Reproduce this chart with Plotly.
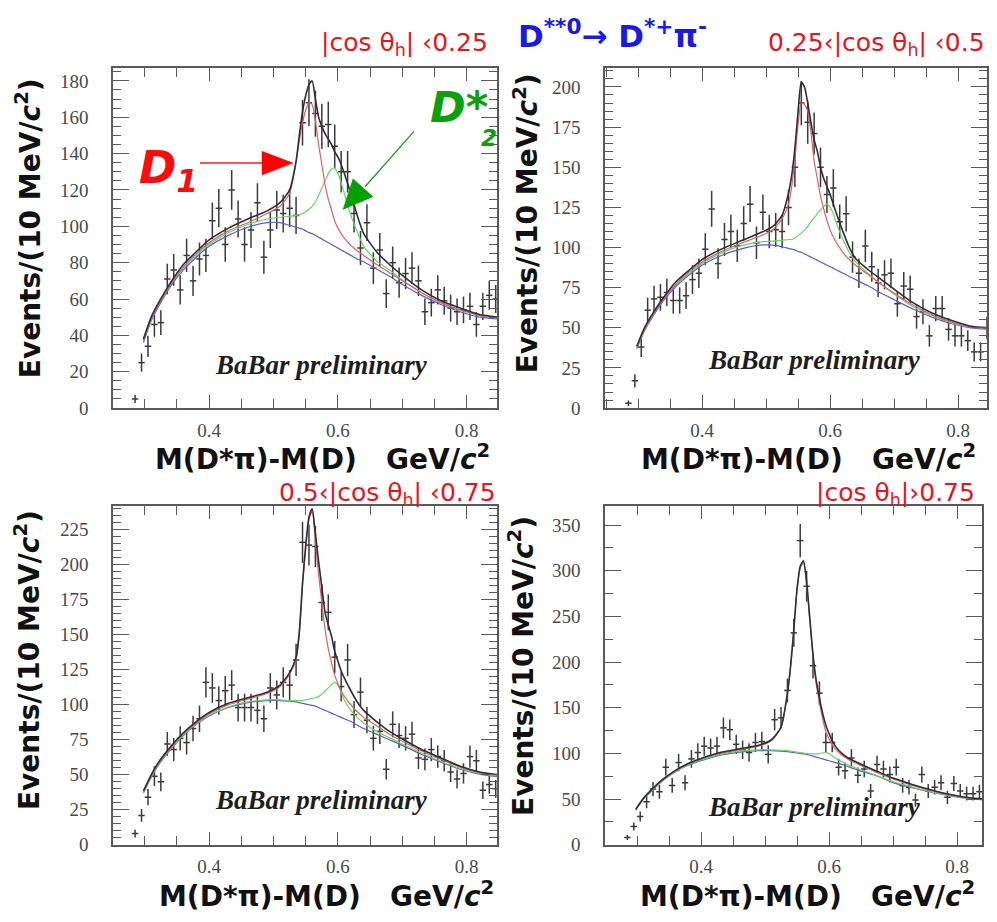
import numpy as np
import plotly.graph_objects as go

# ---------------- data ----------------
bins = [0.285, 0.295, 0.305, 0.315, 0.325, 0.335, 0.345, 0.355, 0.365, 0.375,
        0.385, 0.395, 0.405, 0.415, 0.425, 0.435, 0.445, 0.455, 0.465, 0.475,
        0.485, 0.495, 0.505, 0.515, 0.525, 0.535, 0.545, 0.555, 0.565, 0.575,
        0.585, 0.595, 0.605, 0.615, 0.625, 0.635, 0.645, 0.655, 0.665, 0.675,
        0.685, 0.695, 0.705, 0.715, 0.725, 0.735, 0.745, 0.755, 0.765, 0.775,
        0.785, 0.795, 0.805, 0.815, 0.825, 0.835, 0.845]

p1_counts = [5, 25, 34, 46, 47, 71, 76, 65, 84, 70, 82, 84, 103, 110, 90, 120, 104, 90, 98, 113,
             83, 98, 109, 107, 110, 106, 157, 168, 162, 155, 156, 144, 130, 130, 107, 88, 102, 77, 87, 63,
             80, 69, 74, 77, 70, 53, 58, 65, 59, 55, 53, 54, 56, 46, 56, 62, 60]
p2_counts = [3, 17, 38, 61, 68, 69, 72, 67, 67, 70, 80, 84, 99, 124, 90, 105, 110, 101, 115, 127,
             103, 122, 110, 111, 110, 125, 150, 190, 178, 171, 150, 133, 137, 116, 121, 94, 84, 101, 88, 78,
             83, 84, 65, 76, 74, 57, 60, 45, 62, 62, 49, 45, 45, 42, 35, 35, 50]
p3_counts = [8, 21, 34, 49, 45, 72, 68, 76, 73, 83, 90, 116, 112, 103, 110, 114, 98, 98, 98, 96,
             90, 112, 107, 116, 114, 132, 216, 214, 213, 173, 166, 134, 113, 132, 93, 109, 89, 76, 81, 54,
             86, 78, 76, 79, 62, 61, 68, 63, 60, 52, 47, 51, 63, 60, 39, 43, 40]
p4_counts = [8, 20, 31, 47, 61, 58, 85, 65, 90, 68, 94, 101, 108, 106, 108, 128, 126, 110, 104, 101,
             112, 113, 99, 137, 139, 169, 232, 333, 283, 196, 166, 112, 112, 85, 81, 95, 76, 83, 59, 88,
             83, 77, 85, 65, 63, 49, 77, 59, 63, 68, 52, 67, 59, 56, 56, 58]

curve_x = [0.298, 0.31, 0.32, 0.34, 0.36, 0.38, 0.40, 0.43, 0.46, 0.49, 0.51, 0.525, 0.535, 0.54,
           0.545, 0.55, 0.555, 0.56, 0.565, 0.57, 0.575, 0.58, 0.585, 0.59, 0.595, 0.60, 0.605, 0.61,
           0.62, 0.63, 0.64, 0.66, 0.68, 0.70, 0.73, 0.76, 0.79, 0.82, 0.85]

p1_bg = [36, 48, 55, 67, 76, 83, 89, 95, 99.5, 102, 102, 100.5, 99.5, 99, 98.5, 97.5, 96.5, 96, 95, 94,
         93, 92, 91, 90, 89, 88, 87, 86, 84, 82, 80.5, 76.5, 72.5, 68, 62, 57, 53, 50, 49]
p1_red = [37, 49, 56, 68, 77.5, 85, 91, 97.5, 102, 107, 111, 118, 135, 147, 157, 164, 168, 167, 158, 145,
          134, 123, 115, 109, 103, 99, 96, 93.5, 89.5, 86.5, 84, 79, 74.5, 70, 63.5, 58, 54, 51, 49.5]
p1_grn = [37, 49, 56, 68, 77, 84, 90, 96.5, 101, 104, 105, 105.5, 106, 106.5, 107, 108, 109.5, 111, 113.5, 117,
          121, 125, 129, 131.5, 132, 129, 124, 118, 106, 97, 89, 81, 76, 70.5, 63.5, 58, 54, 51, 49.5]
p1_tot = [38, 50, 57, 69, 79, 86, 92.5, 99, 104, 108.5, 113, 120, 136, 150, 163, 172, 178, 180, 170, 160,
          155, 151, 148, 145, 141, 138, 134, 129, 118, 106, 96, 86, 79, 73, 65, 59, 55, 51.5, 50]

p2_bg = [37, 48, 55, 67, 76, 83, 89, 95, 99, 101.5, 101.5, 100.5, 99.5, 99, 98.5, 97.5, 97, 96, 95, 94,
         93, 92, 91, 90, 89, 88, 87, 86, 84, 82, 80, 76, 71.5, 67.5, 61.5, 56.5, 52.5, 50, 49]
p2_red = [38, 49, 56, 68, 77.5, 85, 91, 97.5, 102.5, 107, 111, 118, 127, 138, 155, 177, 190, 189, 185, 172,
          154, 143, 132, 124, 117, 111, 106.5, 103, 97, 92.5, 89, 83, 77, 71.5, 64, 58, 53.5, 50.5, 49.5]
p2_grn = [37.5, 48.5, 56, 68, 77, 84, 90, 96.5, 101, 103.5, 104, 104.5, 105, 105, 106, 107.5, 109, 111, 113, 116,
          118.5, 121, 123.5, 125.5, 127, 125, 121, 115, 105, 97, 91, 83.5, 77, 71, 63, 57.5, 53, 50.5, 49.5]
p2_tot = [38.5, 50, 57, 69, 79, 86, 92.5, 99, 104, 109, 113, 120, 134, 145, 162, 185, 203, 200, 190, 178,
          167, 160, 150, 143, 138, 133, 127, 121, 110, 100, 93, 86, 80, 74, 65.5, 59, 54.5, 51, 50]

p3_bg = [37, 48, 56, 68, 78, 86, 92, 98, 101.5, 103, 103, 102.5, 102, 101.5, 101, 100.5, 100, 99.5, 99, 98,
         97, 96, 95, 94, 93, 92, 91, 90, 88, 85.5, 83, 79, 75, 71, 64.5, 59, 54, 50.5, 48.5]
p3_red = [38, 49, 57, 69, 79, 87, 93.5, 100, 104, 108, 113, 122, 132, 150, 185, 212, 232, 238, 217, 193,
          173, 154, 140, 130, 121, 115, 110, 106, 100, 95, 91, 85, 79, 74, 67, 61, 55.5, 51.5, 49.5]
p3_grn = [37.5, 48.5, 56.5, 68.5, 78.5, 86.5, 92.5, 98.5, 102, 103.5, 103.5, 103, 103, 103, 103, 103.5, 104, 104.5, 105, 106,
          107.5, 109.5, 112, 114.5, 116, 114, 109, 103, 96, 91, 87, 81, 76.5, 72, 65.5, 59.5, 54.5, 51, 49]
p3_tot = [38.5, 50, 58, 70, 80, 88, 94.5, 101, 105, 109, 114, 123, 134, 152, 187, 214, 234, 240, 222, 202,
          184, 166, 157, 149, 138, 131, 124, 119, 110, 102, 96, 88, 81, 75.5, 68, 62, 56, 52, 50]

p4_bg = [38, 50, 57, 70, 80, 87, 92, 98, 101.5, 103, 103, 102.5, 102, 101.5, 101, 100.5, 100, 99.5, 99, 98,
         97, 96, 95, 94, 93, 92, 91, 90, 88, 85.5, 83, 78.5, 74, 68, 62.5, 57.5, 53.5, 50.5, 49]
p4_red = [38.5, 50.5, 58, 71, 81, 88.5, 94, 100, 104, 108, 114, 128, 165, 195, 235, 278, 303, 309, 285, 245,
          205, 176, 156, 138, 124, 116, 110, 105, 98, 93.5, 90, 83.5, 77.5, 72, 65, 59.5, 54.5, 51, 49.5]
p4_grn = [38, 50, 57.5, 70.5, 80.5, 87.5, 93, 99, 102.5, 104, 104, 103.5, 103, 102.5, 102, 101.5, 101, 100.5, 100, 99.5,
          99.5, 99.5, 100, 100.5, 101, 100, 97.5, 95, 91, 87.5, 84.5, 79.5, 74.5, 69, 63, 58, 54, 50.5, 49]
p4_tot = [39, 51, 58.5, 71.5, 81.5, 89, 94.5, 101, 105, 109, 115, 129, 166, 196, 236, 280, 305, 311, 288, 248,
          208, 180, 161, 144, 131, 122, 114, 108, 100, 95, 91.5, 85, 79, 73, 66, 60, 55, 51.5, 50]

y_tick_steps = [20, 25, 25, 50]
y_minor_steps = [5, 5, 5, 25]
cut_labels = ["|cos θ<sub>h</sub>| ‹0.25", "0.25‹|cos θ<sub>h</sub>| ‹0.5",
              "0.5‹|cos θ<sub>h</sub>| ‹0.75", "|cos θ<sub>h</sub>|›0.75"]
x_title = "<b>M(D*π)-M(D)\u00a0\u00a0\u00a0GeV/<i>c</i><sup>2</sup></b>"
y_title = "<b>Events/(10 MeV/<i>c</i><sup>2</sup>)</b>"
header = "<b>D<sup>**0</sup>→ D<sup>*+</sup>π<sup>-</sup></b>"
watermark = "<b><i>BaBar preliminary</i></b>"

# ---------------- layout geometry (pixels) ----------------
W, H = 997, 922
def PX(x):
    return x / W
def PY(y):
    return 1 - y / H

panels = [
    dict(counts=p1_counts, bg=p1_bg, red=p1_red, grn=p1_grn, tot=p1_tot,
         frame=(113, 497, 69, 413), xr=[0.2507, 0.847], yr=[0, 187]),
    dict(counts=p2_counts, bg=p2_bg, red=p2_red, grn=p2_grn, tot=p2_tot,
         frame=(605, 987, 69, 413), xr=[0.2484, 0.845], yr=[0, 211.7]),
    dict(counts=p3_counts, bg=p3_bg, red=p3_red, grn=p3_grn, tot=p3_tot,
         frame=(113, 497, 512, 855), xr=[0.2507, 0.847], yr=[0, 242]),
    dict(counts=p4_counts, bg=p4_bg, red=p4_red, grn=p4_grn, tot=p4_tot,
         frame=(605, 982, 512, 855), xr=[0.25, 0.839], yr=[0, 371]),
]

FRAME = "#5a5a5a"
DATA = "#3a3a3a"
fig = go.Figure()
layout = dict(width=W, height=H, margin=dict(l=0, r=0, t=0, b=0),
              paper_bgcolor="white", plot_bgcolor="white", showlegend=False)

for i, p in enumerate(panels):
    n = i + 1
    xa = "x" if n == 1 else f"x{n}"
    ya = "y" if n == 1 else f"y{n}"
    cnt = p["counts"]
    xs = bins[:len(cnt)]
    fig.add_trace(go.Scatter(
        x=xs, y=cnt, mode="markers", xaxis=xa, yaxis=ya,
        marker=dict(size=1, color="rgba(0,0,0,0)"),
        error_y=dict(type="data", array=list(np.sqrt(cnt)), width=0, thickness=1.5, color=DATA),
        error_x=dict(type="constant", value=0.005, width=0, thickness=1.5, color=DATA),
        hoverinfo="skip"))
    for key, col, w in [("bg", "#5b5bd6", 1.2), ("grn", "#63d663", 1.2),
                        ("red", "#e06060", 1.2), ("tot", "#2f2f3a", 1.6)]:
        fig.add_trace(go.Scatter(x=curve_x, y=p[key], mode="lines", xaxis=xa, yaxis=ya,
                                 line=dict(color=col, width=w, shape="spline", smoothing=0.6),
                                 hoverinfo="skip"))
    x0, x1, y0, y1 = p["frame"]
    axcommon = dict(showline=True, mirror="allticks", linecolor=FRAME, linewidth=1.5,
                    ticks="inside", tickcolor=FRAME, showgrid=False, zeroline=False,
                    tickfont=dict(family="Liberation Serif", size=19, color="#4a4a4a"))
    layout["xaxis" if n == 1 else f"xaxis{n}"] = dict(
        axcommon, domain=[PX(x0), PX(x1)], range=p["xr"], anchor=ya,
        tick0=0, dtick=0.2, tickformat=".1f", ticklen=13, tickwidth=1.3,
        ticklabelstandoff=4,
        minor=dict(ticks="inside", tick0=0, dtick=0.05, ticklen=9, tickcolor=FRAME, tickwidth=1.1))
    layout["yaxis" if n == 1 else f"yaxis{n}"] = dict(
        axcommon, domain=[PY(y1), PY(y0)], range=p["yr"], anchor=xa,
        tick0=0, dtick=y_tick_steps[i], ticklen=16, tickwidth=1.3,
        ticklabelstandoff=19,
        minor=dict(ticks="inside", tick0=0, dtick=y_minor_steps[i], ticklen=8, tickcolor=FRAME, tickwidth=1.1))

fig.update_layout(**layout)

ann = []
# y titles
for (cx, cy) in [(28, 231), (526, 226), (27, 668), (522, 674)]:
    ann.append(dict(text=y_title, x=PX(cx), y=PY(cy), textangle=-90,
                    font=dict(family="DejaVu Sans", size=28, color="#111")))
# x titles
for (cx, cy) in [(322, 463), (808, 463), (326, 905), (807, 905)]:
    ann.append(dict(text=x_title, x=PX(cx), y=PY(cy),
                    font=dict(family="DejaVu Sans", size=28, color="#111")))
# cut labels
for lab, (rx, cy) in zip(cut_labels, [(490, 45), (987, 45), (498, 500), (977, 500)]):
    ann.append(dict(text=lab, x=PX(rx), y=PY(cy), xanchor="right",
                    font=dict(family="DejaVu Sans", size=25, color="#e8141c")))
# header
ann.append(dict(text=header, x=PX(516), y=PY(34), xanchor="left",
                font=dict(family="DejaVu Sans", size=31, color="#1a1ae8")))
# watermarks
for (cx, cy) in [(321, 369), (814, 364), (321, 810), (814, 817)]:
    ann.append(dict(text=watermark, x=PX(cx), y=PY(cy),
                    font=dict(family="Liberation Serif", size=27, color="#1e1e1e")))
# D1 and D2* labels
ann.append(dict(text="<b><i>D<sub>1</sub></i></b>", x=PX(137), y=PY(172), xanchor="left",
                font=dict(family="DejaVu Sans", size=45, color="#ff0a0a")))
ann.append(dict(text="<b><i>D*</i></b>", x=PX(428), y=PY(108), xanchor="left",
                font=dict(family="DejaVu Sans", size=43, color="#0aa00a")))
ann.append(dict(text="<b><i>2</i></b>", x=PX(489), y=PY(140),
                font=dict(family="DejaVu Sans", size=23, color="#0aa00a")))
for a in ann:
    a.update(xref="paper", yref="paper", showarrow=False)
    a.setdefault("xanchor", "center")
    a.setdefault("yanchor", "middle")
fig.update_layout(annotations=ann)

def tri(pts):
    return "M " + " L ".join(f"{PX(x)},{PY(y)}" for x, y in pts) + " Z"

shapes = [
    dict(type="line", x0=PX(200), y0=PY(165), x1=PX(266), y1=PY(165),
         line=dict(color="#ff1a1a", width=1.4)),
    dict(type="path", path=tri([(262, 153), (293, 165), (262, 177)]),
         fillcolor="#ff0000", line=dict(color="#ff0000", width=0.5)),
    dict(type="line", x0=PX(414), y0=PY(133), x1=PX(365), y1=PY(189),
         line=dict(color="#109a10", width=1.2)),
    dict(type="path", path=tri([(353, 181), (343, 212), (373, 199)]),
         fillcolor="#00a000", line=dict(color="#00a000", width=0.5)),
]
for s in shapes:
    s.update(xref="paper", yref="paper")
fig.update_layout(shapes=shapes)

fig.write_html("out.html")
